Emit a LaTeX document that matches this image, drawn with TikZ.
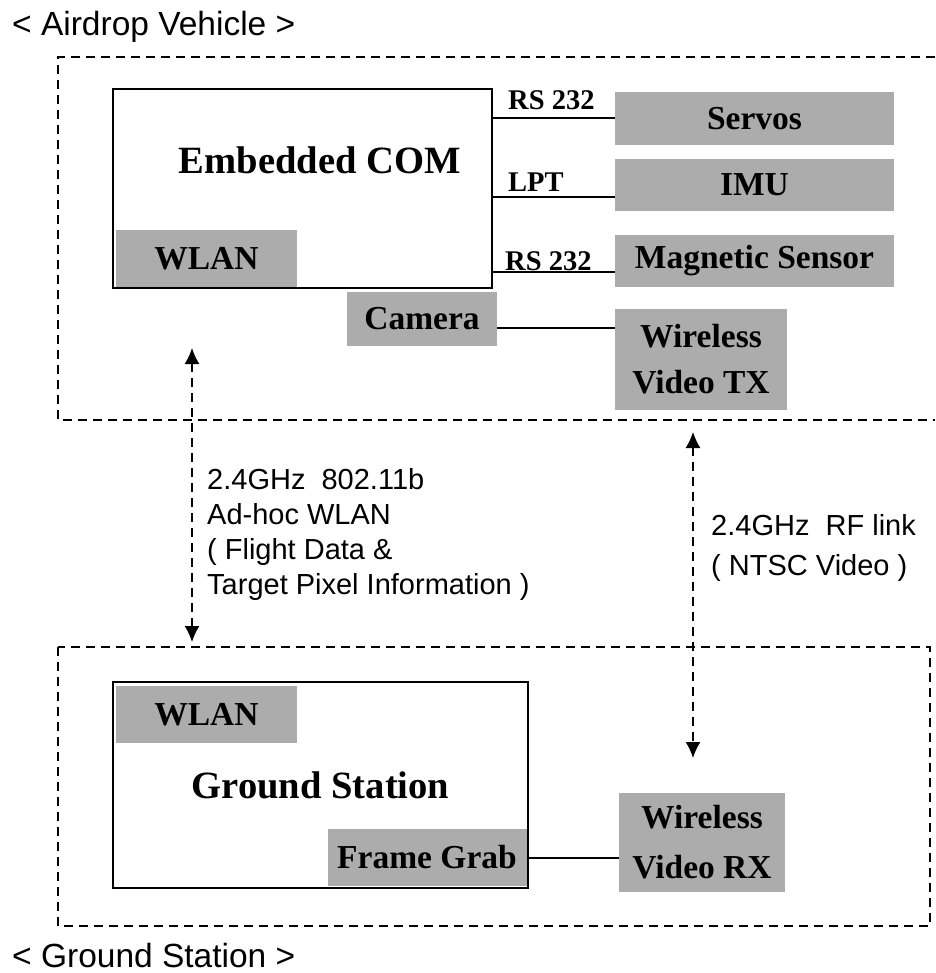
\documentclass[tikz,border=0pt]{standalone}
\usepackage{fontspec}
\setmainfont{Liberation Serif}
\setsansfont{Liberation Sans}
\usetikzlibrary{arrows.meta}
\definecolor{boxgray}{RGB}{172,172,172}

\begin{document}
\begin{tikzpicture}[x=1pt,y=-1pt,
    part/.style={fill=boxgray, inner sep=0pt, align=center, font=\fontsize{33.5}{46}\selectfont\bfseries},
    host/.style={draw, line width=2pt, inner sep=0pt},
    port/.style={font=\fontsize{28.5}{34}\selectfont\bfseries, inner sep=0pt, anchor=base west},
    link/.style={line width=2pt},
    zone/.style={line width=1.8pt, dash pattern=on 9pt off 6pt},
    radio/.style={line width=1.5pt, dash pattern=on 9pt off 6pt, {Latex[length=16pt,width=15pt]}-{Latex[length=16pt,width=15pt]}},
    note/.style={font=\sffamily\fontsize{29}{35}\selectfont, inner sep=0pt, align=left, anchor=north west},
    title/.style={font=\sffamily\fontsize{33.5}{40}\selectfont, inner sep=0pt, anchor=base west}]
\useasboundingbox (0,0) rectangle (935,973);

\node[title](avtitle)  at (12,36) {< Airdrop Vehicle >};
\draw[zone] (935,57) -| (58,420) -- (935,420);
\node[host, minimum width=379pt, minimum height=199pt](com)  at (302.5,188.5) {};
\node[part, minimum width=181pt, minimum height=57pt](comwlan)  at (206.5,258.5) {WLAN};
\node[font=\fontsize{38.6}{44}\selectfont\bfseries, inner sep=0pt](comname)  at (320,160) {Embedded COM};
\node[part, minimum width=279pt, minimum height=53pt](servos)  at (754.5,118.5) {Servos};
\node[part, minimum width=279pt, minimum height=52pt](imu)  at (754.5,185) {IMU};
\node[part, minimum width=279pt, minimum height=52pt](mag)  at (754.5,261) {Magnetic Sensor};
\node[part, minimum width=150pt, minimum height=54pt](camera)  at (422,319) {Camera};
\node[part, minimum width=172pt, minimum height=101pt](wvtx)  at (701,359.5) {Wireless\\Video TX};
\node[port](rsservo)  at (508,110) {RS 232};
\node[port](lpt)  at (508,192) {LPT};
\node[port](rsmag)  at (505,270) {RS 232};
\coordinate (imuport) at ([yshift=-12pt]imu.west);
\coordinate (magport) at ([yshift=-11pt]mag.west);
\coordinate (camport) at ([yshift=-9pt]camera.east);
\draw[link] (servos.west -| com.east) -- (servos.west);
\draw[link] (imuport -| com.east) -- (imuport);
\draw[link] (magport -| com.east) -- (magport);
\draw[link] (camport) -- (camport -| wvtx.west);

\node[title](gstitle)  at (12,967) {< Ground Station >};
\draw[zone] (58,647) rectangle (930,926);
\node[host, minimum width=415pt, minimum height=206pt, font=\fontsize{38.6}{44}\selectfont\bfseries](gs)  at (320.5,785) {Ground Station};
\node[part, minimum width=181pt, minimum height=57pt](gswlan)  at (206.5,714.5) {WLAN};
\node[part, minimum width=199pt, minimum height=57pt](grab)  at (427,857.5) {Frame Grab};
\node[part, minimum width=166pt, minimum height=99pt](wvrx)  at (702,842.5) {Wireless\\[4pt]Video RX};
\draw[link] (grab.east) -- (grab.east -| wvrx.west);

\coordinate (wlanup) at (192,348);
\coordinate (wlandown) at (192,642);
\coordinate (rfup) at (693,432);
\coordinate (rfdown) at (693,758);
\draw[radio] (wlanup) -- (wlandown);
\draw[radio] (rfup) -- (rfdown);
\node[note](wlannote)  at (207,468) {2.4GHz\ \ 802.11b\\Ad-hoc WLAN\\( Flight Data \&\\Target Pixel Information )};
\node[note, font=\sffamily\fontsize{29}{40}\selectfont](rfnote)  at (711,514) {2.4GHz\ \ RF link\\( NTSC Video )};
\end{tikzpicture}
\end{document}
